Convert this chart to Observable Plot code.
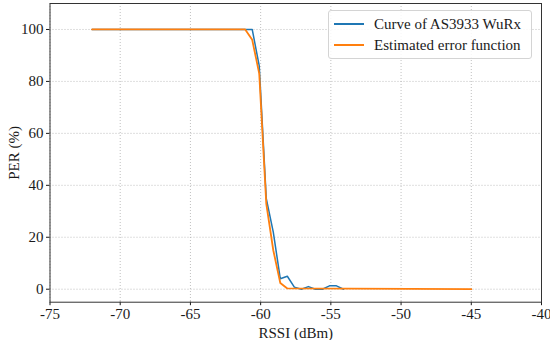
<!DOCTYPE html>
<html><head><meta charset="utf-8">
<script src="https://cdn.jsdelivr.net/npm/d3@7"></script>
<script src="https://cdn.jsdelivr.net/npm/@observablehq/plot@0.6"></script>
<style>
body{margin:0;background:#fff;}
#wrap{position:relative;width:550px;height:340px;font-family:"Liberation Serif",serif;}
#wrap svg, #wrap svg text, #wrap svg g{font-family:"Liberation Serif",serif !important;font-variant:normal !important;}
#wrap svg text{font-size:15px !important;fill:#1a1a1a;}
.legend{position:absolute;left:328px;top:10px;width:204px;height:49px;box-sizing:border-box;border:1px solid #d4d4d4;border-radius:3px;background:rgba(255,255,255,0.85);font-size:15px;color:#1a1a1a;}
.row{position:absolute;left:0;height:20px;display:flex;align-items:center;}
.sw{display:inline-block;width:30px;height:1.6px;margin-left:5px;margin-right:10px;}
</style></head>
<body><div id="wrap"></div>
<script>
const seriesNames = ["Curve of AS3933 WuRx", "Estimated error function"];
const seriesColors = ["#1f77b4", "#ff7f0e"];
const wurxRssi = [-72, -60.6, -60.1, -59.6, -59.1, -58.6, -58.1, -57.6, -57.1, -56.6, -56.1, -55.6, -55.1, -54.6, -54.1];
const wurxPer  = [100, 100, 86, 35, 22, 4, 5, 0.8, 0, 1, 0, 0, 1.3, 1.3, 0];
const erfRssi = [-72, -61.1, -60.6, -60.1, -59.6, -59.1, -58.6, -58.1, -45];
const erfPer  = [100, 100, 96, 83, 33, 15, 2.4, 0.3, 0];
const xTicks = [-75, -70, -65, -60, -55, -50, -45, -40];
const yTicks = [0, 20, 40, 60, 80, 100];

const wurx = wurxRssi.map((x, i) => ({x, y: wurxPer[i]}));
const erf = erfRssi.map((x, i) => ({x, y: erfPer[i]}));

const chart = Plot.plot({
  width: 550, height: 340,
  marginLeft: 49.5, marginRight: 9, marginTop: 3, marginBottom: 38.3,
  style: {fontFamily: "Liberation Serif, serif", fontSize: "15px", color: "#1a1a1a", background: "#fff"},
  x: {domain: [-75, -40]},
  y: {domain: [-5, 110]},
  marks: [
    Plot.gridX(xTicks, {stroke: "#b0b0b0", strokeOpacity: 1, strokeDasharray: "1,2", strokeWidth: 0.8}),
    Plot.gridY(yTicks, {stroke: "#b0b0b0", strokeOpacity: 1, strokeDasharray: "1,2", strokeWidth: 0.8}),
    Plot.line(wurx, {x: "x", y: "y", stroke: seriesColors[0], strokeWidth: 1.5}),
    Plot.line(erf, {x: "x", y: "y", stroke: seriesColors[1], strokeWidth: 1.8}),
    Plot.axisX({ticks: xTicks, tickFormat: d => String(d), tickSize: 3.5, tickPadding: 3, fontSize: 15, label: "RSSI (dBm)", labelAnchor: "center", labelOffset: 36, labelArrow: "none"}),
    Plot.axisY({ticks: yTicks, tickFormat: d => String(d), tickSize: 3.5, tickPadding: 3, fontSize: 15, label: "PER (%)", labelAnchor: "center", labelOffset: 42, labelArrow: "none"}),
    Plot.frame({stroke: "#333", strokeWidth: 1})
  ]
});
const wrap = document.getElementById("wrap");
wrap.appendChild(chart);
const lg = document.createElement("div");
lg.className = "legend";
seriesNames.forEach((n, i) => {
  const r = document.createElement("div");
  r.className = "row";
  r.style.top = (3 + i * 21) + "px";
  const s = document.createElement("span");
  s.className = "sw"; s.style.background = seriesColors[i];
  r.appendChild(s);
  r.appendChild(document.createTextNode(n));
  lg.appendChild(r);
});
wrap.appendChild(lg);
</script></body></html>
